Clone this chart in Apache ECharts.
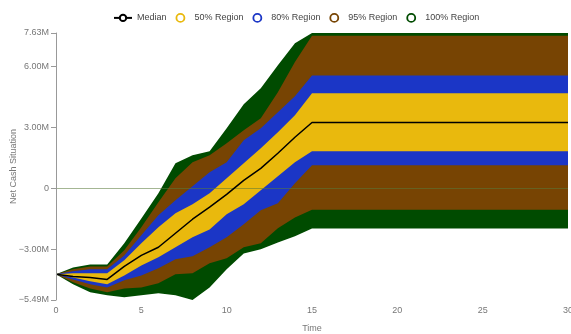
<!DOCTYPE html>
<html>
<head>
<meta charset="utf-8">
<script src="https://cdn.jsdelivr.net/npm/echarts@6/dist/echarts.min.js"></script>
<style>
  html, body { margin: 0; padding: 0; background: #fff; }
  #chart { width: 571px; height: 334px; }
</style>
</head>
<body>
<div id="chart"></div>
<script>
// Time steps of the simulation
const times = [0, 1, 2, 3, 4, 5, 6, 7, 8, 9, 10, 11, 12, 13, 14, 15,
  16, 17, 18, 19, 20, 21, 22, 23, 24, 25, 26, 27, 28, 29, 30];

// Net cash situation in millions: percentile boundaries and median
const p100Low = [-4.23, -4.72, -5.11, -5.26, -5.36, -5.26, -5.16, -5.26, -5.49, -4.87, -3.98, -3.20, -3.00, -2.66, -2.36, -1.98,
  -1.98, -1.98, -1.98, -1.98, -1.98, -1.98, -1.98, -1.98, -1.98, -1.98, -1.98, -1.98, -1.98, -1.98, -1.98];
const p95Low = [-4.23, -4.62, -4.92, -5.11, -4.92, -4.87, -4.67, -4.23, -4.18, -3.69, -3.44, -2.90, -2.70, -1.97, -1.43, -1.05,
  -1.05, -1.05, -1.05, -1.05, -1.05, -1.05, -1.05, -1.05, -1.05, -1.05, -1.05, -1.05, -1.05, -1.05, -1.05];
const p80Low = [-4.23, -4.48, -4.72, -4.87, -4.52, -4.28, -3.93, -3.49, -3.34, -2.90, -2.41, -1.77, -1.08, -0.74, 0.25, 1.13,
  1.13, 1.13, 1.13, 1.13, 1.13, 1.13, 1.13, 1.13, 1.13, 1.13, 1.13, 1.13, 1.13, 1.13, 1.13];
const p50Low = [-4.23, -4.38, -4.57, -4.72, -4.28, -3.79, -3.39, -2.90, -2.41, -2.02, -1.28, -0.79, -0.10, 0.59, 1.28, 1.82,
  1.82, 1.82, 1.82, 1.82, 1.82, 1.82, 1.82, 1.82, 1.82, 1.82, 1.82, 1.82, 1.82, 1.82, 1.82];
const median = [-4.23, -4.33, -4.38, -4.48, -3.84, -3.30, -2.90, -2.21, -1.52, -0.93, -0.30, 0.39, 0.98, 1.72, 2.51, 3.23,
  3.23, 3.23, 3.23, 3.23, 3.23, 3.23, 3.23, 3.23, 3.23, 3.23, 3.23, 3.23, 3.23, 3.23, 3.23];
const p50High = [-4.23, -4.18, -4.18, -4.18, -3.54, -2.70, -1.92, -1.23, -0.79, -0.25, 0.49, 1.23, 1.97, 2.75, 3.59, 4.67,
  4.67, 4.67, 4.67, 4.67, 4.67, 4.67, 4.67, 4.67, 4.67, 4.67, 4.67, 4.67, 4.67, 4.67, 4.67];
const p80High = [-4.23, -4.08, -3.98, -3.98, -3.30, -2.31, -1.33, -0.59, 0.10, 0.79, 1.28, 2.36, 2.95, 3.74, 4.52, 5.54,
  5.54, 5.54, 5.54, 5.54, 5.54, 5.54, 5.54, 5.54, 5.54, 5.54, 5.54, 5.54, 5.54, 5.54, 5.54];
const p95High = [-4.23, -3.98, -3.84, -3.84, -3.05, -1.92, -0.69, 0.49, 1.28, 1.62, 2.21, 2.85, 3.44, 4.72, 6.20, 7.49,
  7.49, 7.49, 7.49, 7.49, 7.49, 7.49, 7.49, 7.49, 7.49, 7.49, 7.49, 7.49, 7.49, 7.49, 7.49];
const p100High = [-4.23, -3.89, -3.74, -3.74, -2.70, -1.48, -0.25, 1.23, 1.62, 1.82, 2.95, 4.13, 4.92, 6.05, 7.13, 7.63,
  7.63, 7.63, 7.63, 7.63, 7.63, 7.63, 7.63, 7.63, 7.63, 7.63, 7.63, 7.63, 7.63, 7.63, 7.63];

// Axis ticks
const yTicks = [-5.49, -3, 0, 3, 6, 7.63];
const yMin = -5.49;
const yMax = 7.63;
const xTicks = [0, 5, 10, 15, 20, 25, 30];

const regionNames = ['50% Region', '80% Region', '95% Region', '100% Region'];
const colors = {
  'Median': '#000000',
  '50% Region': '#e9b90d',
  '80% Region': '#1b36c6',
  '95% Region': '#774403',
  '100% Region': '#004b00'
};

const FONT = '"Liberation Sans", Arial, sans-serif';

function pairs(arr) {
  return times.map((t, i) => [t, arr[i]]);
}

// Each boundary is filled down to the bottom of the plot; later (higher z)
// boundaries paint over earlier ones, so the visible strip between two
// boundaries takes the colour of the upper one. The minimum is painted white.
const layers = [
  { data: p100High, name: '100% Region', color: colors['100% Region'] },
  { data: p95High, name: '95% Region', color: colors['95% Region'] },
  { data: p80High, name: '80% Region', color: colors['80% Region'] },
  { data: p50High, name: '50% Region', color: colors['50% Region'] },
  { data: p50Low, name: '80% Region', color: colors['80% Region'] },
  { data: p80Low, name: '95% Region', color: colors['95% Region'] },
  { data: p95Low, name: '100% Region', color: colors['100% Region'] },
  { data: p100Low, name: 'lowest', color: '#ffffff' }
];

const series = layers.map((l, k) => ({
  name: l.name,
  type: 'line',
  data: pairs(l.data),
  symbol: 'none',
  lineStyle: { width: 0, opacity: 0 },
  itemStyle: { color: l.color },
  areaStyle: { color: l.color, opacity: 1, origin: 'start' },
  silent: true,
  z: 2 + k * 0.01
}));

series.push({
  name: 'Median',
  type: 'line',
  data: pairs(median),
  symbol: 'circle',
  symbolSize: 8,
  showSymbol: false,
  lineStyle: { color: '#000', width: 1.5 },
  itemStyle: { color: '#fff', borderColor: '#000', borderWidth: 2 },
  z: 10,
  markLine: {
    silent: true,
    symbol: 'none',
    label: { show: false },
    lineStyle: { color: '#5a7a3a', opacity: 0.55, width: 1, type: 'solid' },
    data: [{ yAxis: 0 }]
  }
});

const legendData = [{
  name: 'Median',
  itemStyle: { color: '#fff', borderColor: '#000', borderWidth: 2 },
  lineStyle: { color: '#000', width: 2 }
}].concat(regionNames.map(n => ({
  name: n,
  icon: 'circle',
  itemStyle: { color: '#fff', borderColor: colors[n], borderWidth: 1.8 }
})));

function fmtY(v) {
  if (Math.abs(v) < 1e-9) return '0';
  const s = Math.abs(v).toFixed(2) + 'M';
  return v < 0 ? '\u2212' + s : s;
}

const chart = echarts.init(document.getElementById('chart'), null, { renderer: 'canvas' });
chart.setOption({
  animation: false,
  textStyle: { fontFamily: FONT },
  legend: {
    data: legendData,
    top: 8,
    left: 108,
    itemWidth: 18,
    itemHeight: 8,
    itemGap: 9,
    textStyle: { fontSize: 9, color: '#444', fontFamily: FONT }
  },
  grid: { left: 56, right: 3, top: 33, bottom: 34, outerBoundsMode: 'none', containLabel: false },
  xAxis: {
    type: 'value',
    min: 0,
    max: 30,
    interval: 5,
    name: 'Time',
    nameLocation: 'middle',
    nameGap: 24,
    nameMoveOverlap: false,
    nameTextStyle: { fontSize: 9, color: '#777', fontFamily: FONT },
    axisLine: { show: false, onZero: false },
    axisTick: { show: false },
    splitLine: { show: false },
    axisLabel: { fontSize: 9, color: '#777', margin: 6, fontFamily: FONT, customValues: xTicks }
  },
  yAxis: {
    type: 'value',
    min: yMin,
    max: yMax,
    z: 20,
    name: 'Net Cash Situation',
    nameLocation: 'middle',
    nameGap: 38,
    nameMoveOverlap: false,
    nameTextStyle: { fontSize: 9, color: '#777', fontFamily: FONT },
    axisLine: { show: true, lineStyle: { color: '#999', width: 1 } },
    axisTick: { show: true, length: 5, lineStyle: { color: '#999' }, customValues: yTicks },
    splitLine: { show: false },
    axisLabel: {
      fontSize: 9,
      color: '#777',
      margin: 7,
      fontFamily: FONT,
      customValues: yTicks,
      formatter: fmtY
    }
  },
  series: series
});
</script>
</body>
</html>
